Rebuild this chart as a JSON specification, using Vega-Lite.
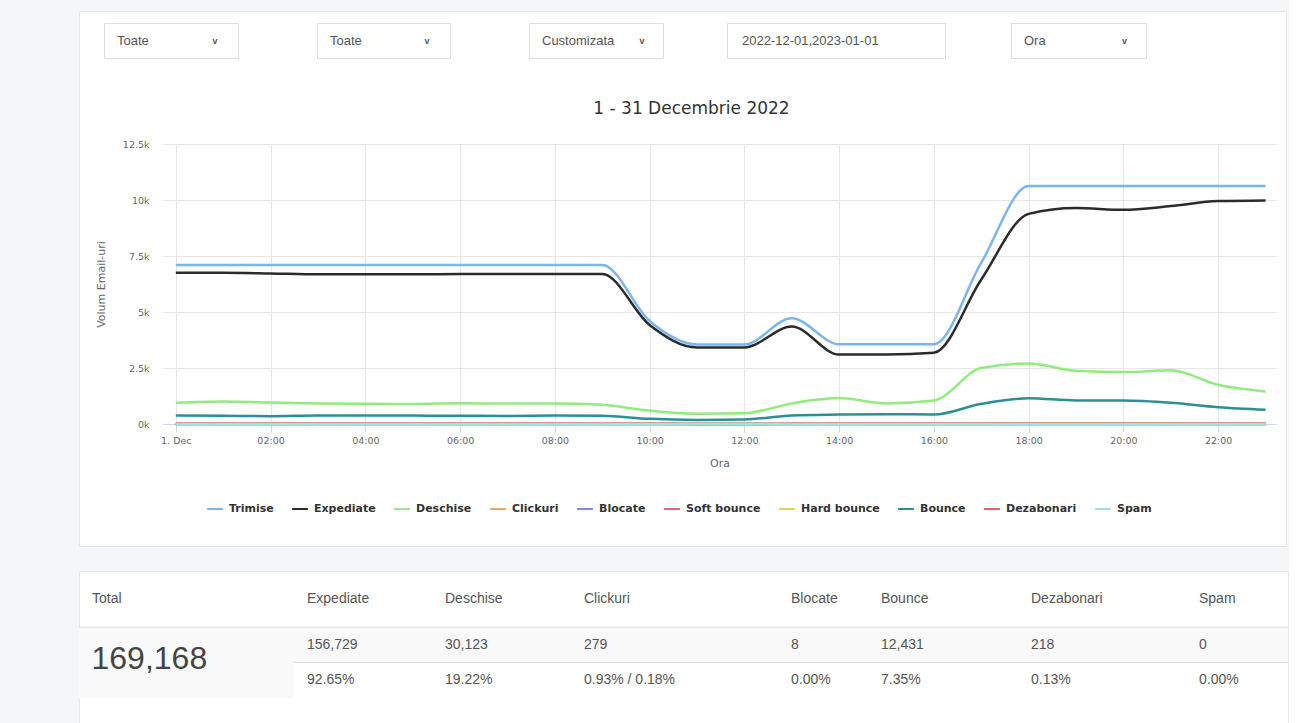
{
  "$schema": "https://vega.github.io/schema/vega-lite/v6.json",
  "background": "#f5f6f8",
  "padding": {"left": 78, "top": 10, "right": 0, "bottom": 0},
  "bounds": "flush",
  "spacing": 12,
  "config": {"view": {"stroke": null}, "font": "DejaVu Sans"},
  "datasets": {
    "controls": [
      {"slot": 1, "label": "Toate"},
      {"slot": 2, "label": "Toate"},
      {"slot": 3, "label": "Customizata"},
      {"slot": 4, "label": "2022-12-01,2023-01-01"},
      {"slot": 5, "label": "Ora"}
    ],
    "series": [
      {"h": 0, "Trimise": 7100, "Expediate": 6750, "Deschise": 950, "Clickuri": 12, "Blocate": 0, "Soft bounce": 0, "Hard bounce": 0, "Bounce": 380, "Dezabonari": 9, "Spam": 0},
      {"h": 1, "Trimise": 7100, "Expediate": 6750, "Deschise": 1010, "Clickuri": 12, "Blocate": 0, "Soft bounce": 0, "Hard bounce": 0, "Bounce": 370, "Dezabonari": 9, "Spam": 0},
      {"h": 2, "Trimise": 7100, "Expediate": 6720, "Deschise": 960, "Clickuri": 12, "Blocate": 0, "Soft bounce": 0, "Hard bounce": 0, "Bounce": 350, "Dezabonari": 9, "Spam": 0},
      {"h": 3, "Trimise": 7100, "Expediate": 6680, "Deschise": 920, "Clickuri": 11, "Blocate": 0, "Soft bounce": 0, "Hard bounce": 0, "Bounce": 380, "Dezabonari": 9, "Spam": 0},
      {"h": 4, "Trimise": 7100, "Expediate": 6680, "Deschise": 900, "Clickuri": 11, "Blocate": 0, "Soft bounce": 0, "Hard bounce": 0, "Bounce": 380, "Dezabonari": 9, "Spam": 0},
      {"h": 5, "Trimise": 7100, "Expediate": 6680, "Deschise": 890, "Clickuri": 11, "Blocate": 0, "Soft bounce": 0, "Hard bounce": 0, "Bounce": 375, "Dezabonari": 9, "Spam": 0},
      {"h": 6, "Trimise": 7100, "Expediate": 6700, "Deschise": 930, "Clickuri": 11, "Blocate": 0, "Soft bounce": 0, "Hard bounce": 0, "Bounce": 370, "Dezabonari": 9, "Spam": 0},
      {"h": 7, "Trimise": 7100, "Expediate": 6700, "Deschise": 910, "Clickuri": 11, "Blocate": 0, "Soft bounce": 0, "Hard bounce": 0, "Bounce": 360, "Dezabonari": 9, "Spam": 0},
      {"h": 8, "Trimise": 7100, "Expediate": 6700, "Deschise": 920, "Clickuri": 11, "Blocate": 0, "Soft bounce": 0, "Hard bounce": 0, "Bounce": 380, "Dezabonari": 9, "Spam": 0},
      {"h": 9, "Trimise": 7100, "Expediate": 6700, "Deschise": 860, "Clickuri": 11, "Blocate": 0, "Soft bounce": 0, "Hard bounce": 0, "Bounce": 370, "Dezabonari": 9, "Spam": 0},
      {"h": 10, "Trimise": 4600, "Expediate": 4420, "Deschise": 600, "Clickuri": 8, "Blocate": 0, "Soft bounce": 0, "Hard bounce": 0, "Bounce": 230, "Dezabonari": 6, "Spam": 0},
      {"h": 11, "Trimise": 3550, "Expediate": 3420, "Deschise": 460, "Clickuri": 6, "Blocate": 0, "Soft bounce": 0, "Hard bounce": 0, "Bounce": 180, "Dezabonari": 5, "Spam": 0},
      {"h": 12, "Trimise": 3550, "Expediate": 3420, "Deschise": 480, "Clickuri": 6, "Blocate": 0, "Soft bounce": 0, "Hard bounce": 0, "Bounce": 200, "Dezabonari": 5, "Spam": 0},
      {"h": 13, "Trimise": 4720, "Expediate": 4350, "Deschise": 920, "Clickuri": 8, "Blocate": 0, "Soft bounce": 0, "Hard bounce": 0, "Bounce": 380, "Dezabonari": 6, "Spam": 0},
      {"h": 14, "Trimise": 3560, "Expediate": 3100, "Deschise": 1160, "Clickuri": 8, "Blocate": 0, "Soft bounce": 0, "Hard bounce": 0, "Bounce": 420, "Dezabonari": 6, "Spam": 0},
      {"h": 15, "Trimise": 3560, "Expediate": 3100, "Deschise": 920, "Clickuri": 7, "Blocate": 0, "Soft bounce": 0, "Hard bounce": 0, "Bounce": 440, "Dezabonari": 6, "Spam": 0},
      {"h": 16, "Trimise": 3560, "Expediate": 3180, "Deschise": 1050, "Clickuri": 8, "Blocate": 0, "Soft bounce": 0, "Hard bounce": 0, "Bounce": 420, "Dezabonari": 6, "Spam": 0},
      {"h": 17, "Trimise": 7200, "Expediate": 6450, "Deschise": 2500, "Clickuri": 15, "Blocate": 0, "Soft bounce": 0, "Hard bounce": 0, "Bounce": 900, "Dezabonari": 12, "Spam": 0},
      {"h": 18, "Trimise": 10620, "Expediate": 9380, "Deschise": 2700, "Clickuri": 18, "Blocate": 0, "Soft bounce": 0, "Hard bounce": 0, "Bounce": 1150, "Dezabonari": 14, "Spam": 0},
      {"h": 19, "Trimise": 10620, "Expediate": 9640, "Deschise": 2380, "Clickuri": 17, "Blocate": 0, "Soft bounce": 0, "Hard bounce": 0, "Bounce": 1050, "Dezabonari": 13, "Spam": 0},
      {"h": 20, "Trimise": 10620, "Expediate": 9560, "Deschise": 2320, "Clickuri": 17, "Blocate": 0, "Soft bounce": 0, "Hard bounce": 0, "Bounce": 1050, "Dezabonari": 13, "Spam": 0},
      {"h": 21, "Trimise": 10620, "Expediate": 9730, "Deschise": 2400, "Clickuri": 17, "Blocate": 0, "Soft bounce": 0, "Hard bounce": 0, "Bounce": 950, "Dezabonari": 13, "Spam": 0},
      {"h": 22, "Trimise": 10620, "Expediate": 9950, "Deschise": 1750, "Clickuri": 14, "Blocate": 0, "Soft bounce": 0, "Hard bounce": 0, "Bounce": 750, "Dezabonari": 12, "Spam": 0},
      {"h": 23, "Trimise": 10620, "Expediate": 9980, "Deschise": 1450, "Clickuri": 13, "Blocate": 0, "Soft bounce": 0, "Hard bounce": 0, "Bounce": 640, "Dezabonari": 11, "Spam": 0}
    ],
    "table": [
      {"col": "Total", "row": "h", "txt": "Total"},
      {"col": "Total", "row": "v", "txt": "169,168"},
      {"col": "Expediate", "row": "h", "txt": "Expediate"},
      {"col": "Expediate", "row": "v", "txt": "156,729"},
      {"col": "Expediate", "row": "p", "txt": "92.65%"},
      {"col": "Deschise", "row": "h", "txt": "Deschise"},
      {"col": "Deschise", "row": "v", "txt": "30,123"},
      {"col": "Deschise", "row": "p", "txt": "19.22%"},
      {"col": "Clickuri", "row": "h", "txt": "Clickuri"},
      {"col": "Clickuri", "row": "v", "txt": "279"},
      {"col": "Clickuri", "row": "p", "txt": "0.93% / 0.18%"},
      {"col": "Blocate", "row": "h", "txt": "Blocate"},
      {"col": "Blocate", "row": "v", "txt": "8"},
      {"col": "Blocate", "row": "p", "txt": "0.00%"},
      {"col": "Bounce", "row": "h", "txt": "Bounce"},
      {"col": "Bounce", "row": "v", "txt": "12,431"},
      {"col": "Bounce", "row": "p", "txt": "7.35%"},
      {"col": "Dezabonari", "row": "h", "txt": "Dezabonari"},
      {"col": "Dezabonari", "row": "v", "txt": "218"},
      {"col": "Dezabonari", "row": "p", "txt": "0.13%"},
      {"col": "Spam", "row": "h", "txt": "Spam"},
      {"col": "Spam", "row": "v", "txt": "0"},
      {"col": "Spam", "row": "p", "txt": "0.00%"}
    ]
  },
  "vconcat": [
    {"bounds": "flush", "vconcat": [
      {"width": 1207, "height": 535, "view": {"fill": "white", "stroke": "#e4e6ea"}, "data": {"values": [{"s": 0}]}, "mark": {"type": "text", "text": ""}, "encoding": {}}
    ]},
    {
      "bounds": "flush",
      "spacing": 121,
      "vconcat": [
        {
          "bounds": "flush",
          "spacing": 0,
          "hconcat": [
            {"width": 25, "height": 35, "data": {"values": [{"s": 0}]}, "mark": {"type": "text", "text": ""}, "encoding": {}},
            {"width": 134, "height": 35, "view": {"fill": "white", "stroke": "#dddddd"}, "data": {"name": "controls"}, "transform": [{"filter": "datum.slot == 1"}],
             "layer": [
               {"mark": {"type": "text", "align": "left", "baseline": "middle", "dx": -54, "font": "Liberation Sans", "fontSize": 13, "color": "#555555"}, "encoding": {"text": {"field": "label"}}},
               {"mark": {"type": "text", "text": "v", "align": "center", "baseline": "middle", "dx": 44, "font": "Liberation Sans", "fontWeight": "bold", "fontSize": 9, "color": "#555555"}, "encoding": {}}
             ]},
            {"width": 79, "height": 35, "data": {"values": [{"s": 0}]}, "mark": {"type": "text", "text": ""}, "encoding": {}},
            {"width": 133, "height": 35, "view": {"fill": "white", "stroke": "#dddddd"}, "data": {"name": "controls"}, "transform": [{"filter": "datum.slot == 2"}],
             "layer": [
               {"mark": {"type": "text", "align": "left", "baseline": "middle", "dx": -53.5, "font": "Liberation Sans", "fontSize": 13, "color": "#555555"}, "encoding": {"text": {"field": "label"}}},
               {"mark": {"type": "text", "text": "v", "align": "center", "baseline": "middle", "dx": 43.5, "font": "Liberation Sans", "fontWeight": "bold", "fontSize": 9, "color": "#555555"}, "encoding": {}}
             ]},
            {"width": 79, "height": 35, "data": {"values": [{"s": 0}]}, "mark": {"type": "text", "text": ""}, "encoding": {}},
            {"width": 134, "height": 35, "view": {"fill": "white", "stroke": "#dddddd"}, "data": {"name": "controls"}, "transform": [{"filter": "datum.slot == 3"}],
             "layer": [
               {"mark": {"type": "text", "align": "left", "baseline": "middle", "dx": -54, "font": "Liberation Sans", "fontSize": 13, "color": "#555555"}, "encoding": {"text": {"field": "label"}}},
               {"mark": {"type": "text", "text": "v", "align": "center", "baseline": "middle", "dx": 46, "font": "Liberation Sans", "fontWeight": "bold", "fontSize": 9, "color": "#555555"}, "encoding": {}}
             ]},
            {"width": 64, "height": 35, "data": {"values": [{"s": 0}]}, "mark": {"type": "text", "text": ""}, "encoding": {}},
            {"width": 218, "height": 35, "view": {"fill": "white", "stroke": "#dddddd"}, "data": {"name": "controls"}, "transform": [{"filter": "datum.slot == 4"}],
             "mark": {"type": "text", "align": "left", "baseline": "middle", "dx": -94, "font": "Liberation Sans", "fontSize": 13, "color": "#555555"}, "encoding": {"text": {"field": "label"}}},
            {"width": 66, "height": 35, "data": {"values": [{"s": 0}]}, "mark": {"type": "text", "text": ""}, "encoding": {}},
            {"width": 135, "height": 35, "view": {"fill": "white", "stroke": "#dddddd"}, "data": {"name": "controls"}, "transform": [{"filter": "datum.slot == 5"}],
             "layer": [
               {"mark": {"type": "text", "align": "left", "baseline": "middle", "dx": -54.5, "font": "Liberation Sans", "fontSize": 13, "color": "#555555"}, "encoding": {"text": {"field": "label"}}},
               {"mark": {"type": "text", "text": "v", "align": "center", "baseline": "middle", "dx": 46, "font": "Liberation Sans", "fontWeight": "bold", "fontSize": 9, "color": "#555555"}, "encoding": {}}
             ]}
          ]
        },
        {
          "bounds": "flush",
          "spacing": 427,
          "vconcat": [
            {
              "bounds": "flush",
              "spacing": 0,
              "hconcat": [
                {"width": 84, "height": 280, "data": {"values": [{"s": 0}]}, "mark": {"type": "text", "text": ""}, "encoding": {}},
                {
                  "width": 1113,
                  "height": 280,
                  "title": {"text": "1 - 31 Decembrie 2022", "font": "DejaVu Sans", "fontSize": 17, "fontWeight": "normal", "color": "#333333", "anchor": "middle", "offset": 21, "dx": -28},
                  "data": {"name": "series"},
                  "transform": [{"fold": ["Trimise", "Expediate", "Deschise", "Clickuri", "Blocate", "Soft bounce", "Hard bounce", "Bounce", "Dezabonari", "Spam"], "as": ["serie", "v"]}],
                  "mark": {"type": "line", "interpolate": "monotone", "strokeWidth": 2.5},
                  "encoding": {
                    "x": {"field": "h", "type": "quantitative",
                      "scale": {"domain": [-0.27, 23.22], "nice": false, "zero": false},
                      "axis": {"values": [0, 2, 4, 6, 8, 10, 12, 14, 16, 18, 20, 22],
                        "labelExpr": "datum.value == 0 ? '1. Dec' : (datum.value < 10 ? '0' : '') + datum.value + ':00'",
                        "title": "Ora", "grid": true, "gridColor": "#e6e6e6", "domainColor": "#ccd6eb", "tickColor": "#ccd6eb", "tickSize": 8,
                        "labelFont": "DejaVu Sans", "labelFontSize": 9.5, "labelColor": "#666666", "labelPadding": 3,
                        "titleFont": "DejaVu Sans", "titleFontSize": 11, "titleFontWeight": "normal", "titleColor": "#666666", "titlePadding": 13}},
                    "y": {"field": "v", "type": "quantitative",
                      "scale": {"domain": [0, 12500], "nice": false},
                      "axis": {"values": [0, 2500, 5000, 7500, 10000, 12500],
                        "labelExpr": "datum.value == 0 ? '0k' : format(datum.value / 1000, '~g') + 'k'",
                        "title": "Volum Email-uri", "grid": true, "gridColor": "#e6e6e6", "domain": false, "ticks": false,
                        "labelFont": "DejaVu Sans", "labelFontSize": 9.5, "labelColor": "#666666", "labelPadding": 14,
                        "titleFont": "DejaVu Sans", "titleFontSize": 11, "titleFontWeight": "normal", "titleColor": "#666666", "titlePadding": 16}},
                    "color": {"field": "serie", "type": "nominal",
                      "scale": {"domain": ["Trimise", "Expediate", "Deschise", "Clickuri", "Blocate", "Soft bounce", "Hard bounce", "Bounce", "Dezabonari", "Spam"],
                        "range": ["#7cb5ec", "#2b2b2b", "#90ed7d", "#f7a35c", "#8085e9", "#f15c80", "#e4d354", "#2b908f", "#f45b5b", "#91e8e1"]},
                      "legend": {"orient": "none", "legendX": 127, "legendY": 489, "direction": "horizontal", "columns": 10, "title": null,
                        "symbolType": "stroke", "symbolStrokeWidth": 2, "symbolSize": 250, "labelOffset": 5,
                        "labelFont": "DejaVu Sans", "labelFontSize": 11, "labelFontWeight": "bold", "labelColor": "#333333", "columnPadding": 14, "labelLimit": 200}}
                  }
                }
              ]
            },
            {
              "bounds": "flush",
              "spacing": 0,
              "vconcat": [
                {"bounds": "flush", "vconcat": [
                  {"width": 1209, "height": 152, "view": {"fill": "white", "stroke": "#e4e6ea"}, "data": {"values": [{"s": 0}]}, "mark": {"type": "text", "text": ""}, "encoding": {}}
                ]},
                {
                  "bounds": "flush",
                  "spacing": 56,
                  "vconcat": [
                    {
                      "bounds": "flush",
                      "spacing": 0,
                      "hconcat": [
                        {"width": 215, "height": 56, "data": {"name": "table"}, "transform": [{"filter": "datum.col == 'Total' && datum.row == 'h'"}], "mark": {"type": "text", "align": "left", "baseline": "middle", "dx": -94.5, "font": "Liberation Sans", "fontSize": 14, "color": "#555555"}, "encoding": {"text": {"field": "txt"}}},
                        {"width": 138, "height": 56, "data": {"name": "table"}, "transform": [{"filter": "datum.col == 'Expediate' && datum.row == 'h'"}], "mark": {"type": "text", "align": "left", "baseline": "middle", "dx": -56, "font": "Liberation Sans", "fontSize": 14, "color": "#555555"}, "encoding": {"text": {"field": "txt"}}},
                        {"width": 139, "height": 56, "data": {"name": "table"}, "transform": [{"filter": "datum.col == 'Deschise' && datum.row == 'h'"}], "mark": {"type": "text", "align": "left", "baseline": "middle", "dx": -56.5, "font": "Liberation Sans", "fontSize": 14, "color": "#555555"}, "encoding": {"text": {"field": "txt"}}},
                        {"width": 207, "height": 56, "data": {"name": "table"}, "transform": [{"filter": "datum.col == 'Clickuri' && datum.row == 'h'"}], "mark": {"type": "text", "align": "left", "baseline": "middle", "dx": -90.5, "font": "Liberation Sans", "fontSize": 14, "color": "#555555"}, "encoding": {"text": {"field": "txt"}}},
                        {"width": 90, "height": 56, "data": {"name": "table"}, "transform": [{"filter": "datum.col == 'Blocate' && datum.row == 'h'"}], "mark": {"type": "text", "align": "left", "baseline": "middle", "dx": -32, "font": "Liberation Sans", "fontSize": 14, "color": "#555555"}, "encoding": {"text": {"field": "txt"}}},
                        {"width": 150, "height": 56, "data": {"name": "table"}, "transform": [{"filter": "datum.col == 'Bounce' && datum.row == 'h'"}], "mark": {"type": "text", "align": "left", "baseline": "middle", "dx": -62, "font": "Liberation Sans", "fontSize": 14, "color": "#555555"}, "encoding": {"text": {"field": "txt"}}},
                        {"width": 168, "height": 56, "data": {"name": "table"}, "transform": [{"filter": "datum.col == 'Dezabonari' && datum.row == 'h'"}], "mark": {"type": "text", "align": "left", "baseline": "middle", "dx": -71, "font": "Liberation Sans", "fontSize": 14, "color": "#555555"}, "encoding": {"text": {"field": "txt"}}},
                        {"width": 102, "height": 56, "data": {"name": "table"}, "transform": [{"filter": "datum.col == 'Spam' && datum.row == 'h'"}], "mark": {"type": "text", "align": "left", "baseline": "middle", "dx": -38, "font": "Liberation Sans", "fontSize": 14, "color": "#555555"}, "encoding": {"text": {"field": "txt"}}}
                      ]
                    },
                    {
                      "bounds": "flush",
                      "spacing": 0,
                      "hconcat": [
                        {"width": 215, "height": 71, "view": {"fill": "#f9f9f9"}, "data": {"name": "table"}, "transform": [{"filter": "datum.col == 'Total' && datum.row == 'v'"}],
                         "layer": [
                           {"mark": {"type": "rule", "color": "#dedede"}, "encoding": {"y": {"value": 0}}},
                           {"mark": {"type": "text", "align": "left", "baseline": "middle", "dx": -95, "dy": -4, "font": "Liberation Sans", "fontSize": 32, "color": "#444444"}, "encoding": {"text": {"field": "txt"}}}
                         ]},
                        {"width": 138, "height": 71, "data": {"name": "table"}, "transform": [{"filter": "datum.col == 'Expediate' && datum.row != 'h'"}],
                         "encoding": {"y": {"field": "row", "type": "nominal", "axis": null, "scale": {"domain": ["v", "p"], "paddingInner": 0, "paddingOuter": 0}}},
                         "layer": [
                           {"transform": [{"filter": "datum.row == 'v'"}], "mark": {"type": "rect", "color": "#f9f9f9"}},
                           {"mark": {"type": "rule", "color": "#dedede"}, "encoding": {"y": {"field": "row", "type": "nominal", "bandPosition": 0, "axis": null, "scale": {"domain": ["v", "p"], "paddingInner": 0, "paddingOuter": 0}}}},
                           {"mark": {"type": "text", "align": "left", "baseline": "middle", "dx": -56, "font": "Liberation Sans", "fontSize": 14, "color": "#555555"}, "encoding": {"text": {"field": "txt"}}}
                         ]},
                        {"width": 139, "height": 71, "data": {"name": "table"}, "transform": [{"filter": "datum.col == 'Deschise' && datum.row != 'h'"}],
                         "encoding": {"y": {"field": "row", "type": "nominal", "axis": null, "scale": {"domain": ["v", "p"], "paddingInner": 0, "paddingOuter": 0}}},
                         "layer": [
                           {"transform": [{"filter": "datum.row == 'v'"}], "mark": {"type": "rect", "color": "#f9f9f9"}},
                           {"mark": {"type": "rule", "color": "#dedede"}, "encoding": {"y": {"field": "row", "type": "nominal", "bandPosition": 0, "axis": null, "scale": {"domain": ["v", "p"], "paddingInner": 0, "paddingOuter": 0}}}},
                           {"mark": {"type": "text", "align": "left", "baseline": "middle", "dx": -56.5, "font": "Liberation Sans", "fontSize": 14, "color": "#555555"}, "encoding": {"text": {"field": "txt"}}}
                         ]},
                        {"width": 207, "height": 71, "data": {"name": "table"}, "transform": [{"filter": "datum.col == 'Clickuri' && datum.row != 'h'"}],
                         "encoding": {"y": {"field": "row", "type": "nominal", "axis": null, "scale": {"domain": ["v", "p"], "paddingInner": 0, "paddingOuter": 0}}},
                         "layer": [
                           {"transform": [{"filter": "datum.row == 'v'"}], "mark": {"type": "rect", "color": "#f9f9f9"}},
                           {"mark": {"type": "rule", "color": "#dedede"}, "encoding": {"y": {"field": "row", "type": "nominal", "bandPosition": 0, "axis": null, "scale": {"domain": ["v", "p"], "paddingInner": 0, "paddingOuter": 0}}}},
                           {"mark": {"type": "text", "align": "left", "baseline": "middle", "dx": -90.5, "font": "Liberation Sans", "fontSize": 14, "color": "#555555"}, "encoding": {"text": {"field": "txt"}}}
                         ]},
                        {"width": 90, "height": 71, "data": {"name": "table"}, "transform": [{"filter": "datum.col == 'Blocate' && datum.row != 'h'"}],
                         "encoding": {"y": {"field": "row", "type": "nominal", "axis": null, "scale": {"domain": ["v", "p"], "paddingInner": 0, "paddingOuter": 0}}},
                         "layer": [
                           {"transform": [{"filter": "datum.row == 'v'"}], "mark": {"type": "rect", "color": "#f9f9f9"}},
                           {"mark": {"type": "rule", "color": "#dedede"}, "encoding": {"y": {"field": "row", "type": "nominal", "bandPosition": 0, "axis": null, "scale": {"domain": ["v", "p"], "paddingInner": 0, "paddingOuter": 0}}}},
                           {"mark": {"type": "text", "align": "left", "baseline": "middle", "dx": -32, "font": "Liberation Sans", "fontSize": 14, "color": "#555555"}, "encoding": {"text": {"field": "txt"}}}
                         ]},
                        {"width": 150, "height": 71, "data": {"name": "table"}, "transform": [{"filter": "datum.col == 'Bounce' && datum.row != 'h'"}],
                         "encoding": {"y": {"field": "row", "type": "nominal", "axis": null, "scale": {"domain": ["v", "p"], "paddingInner": 0, "paddingOuter": 0}}},
                         "layer": [
                           {"transform": [{"filter": "datum.row == 'v'"}], "mark": {"type": "rect", "color": "#f9f9f9"}},
                           {"mark": {"type": "rule", "color": "#dedede"}, "encoding": {"y": {"field": "row", "type": "nominal", "bandPosition": 0, "axis": null, "scale": {"domain": ["v", "p"], "paddingInner": 0, "paddingOuter": 0}}}},
                           {"mark": {"type": "text", "align": "left", "baseline": "middle", "dx": -62, "font": "Liberation Sans", "fontSize": 14, "color": "#555555"}, "encoding": {"text": {"field": "txt"}}}
                         ]},
                        {"width": 168, "height": 71, "data": {"name": "table"}, "transform": [{"filter": "datum.col == 'Dezabonari' && datum.row != 'h'"}],
                         "encoding": {"y": {"field": "row", "type": "nominal", "axis": null, "scale": {"domain": ["v", "p"], "paddingInner": 0, "paddingOuter": 0}}},
                         "layer": [
                           {"transform": [{"filter": "datum.row == 'v'"}], "mark": {"type": "rect", "color": "#f9f9f9"}},
                           {"mark": {"type": "rule", "color": "#dedede"}, "encoding": {"y": {"field": "row", "type": "nominal", "bandPosition": 0, "axis": null, "scale": {"domain": ["v", "p"], "paddingInner": 0, "paddingOuter": 0}}}},
                           {"mark": {"type": "text", "align": "left", "baseline": "middle", "dx": -71, "font": "Liberation Sans", "fontSize": 14, "color": "#555555"}, "encoding": {"text": {"field": "txt"}}}
                         ]},
                        {"width": 102, "height": 71, "data": {"name": "table"}, "transform": [{"filter": "datum.col == 'Spam' && datum.row != 'h'"}],
                         "encoding": {"y": {"field": "row", "type": "nominal", "axis": null, "scale": {"domain": ["v", "p"], "paddingInner": 0, "paddingOuter": 0}}},
                         "layer": [
                           {"transform": [{"filter": "datum.row == 'v'"}], "mark": {"type": "rect", "color": "#f9f9f9"}},
                           {"mark": {"type": "rule", "color": "#dedede"}, "encoding": {"y": {"field": "row", "type": "nominal", "bandPosition": 0, "axis": null, "scale": {"domain": ["v", "p"], "paddingInner": 0, "paddingOuter": 0}}}},
                           {"mark": {"type": "text", "align": "left", "baseline": "middle", "dx": -38, "font": "Liberation Sans", "fontSize": 14, "color": "#555555"}, "encoding": {"text": {"field": "txt"}}}
                         ]}
                      ]
                    }
                  ]
                }
              ]
            }
          ]
        }
      ]
    }
  ]
}
